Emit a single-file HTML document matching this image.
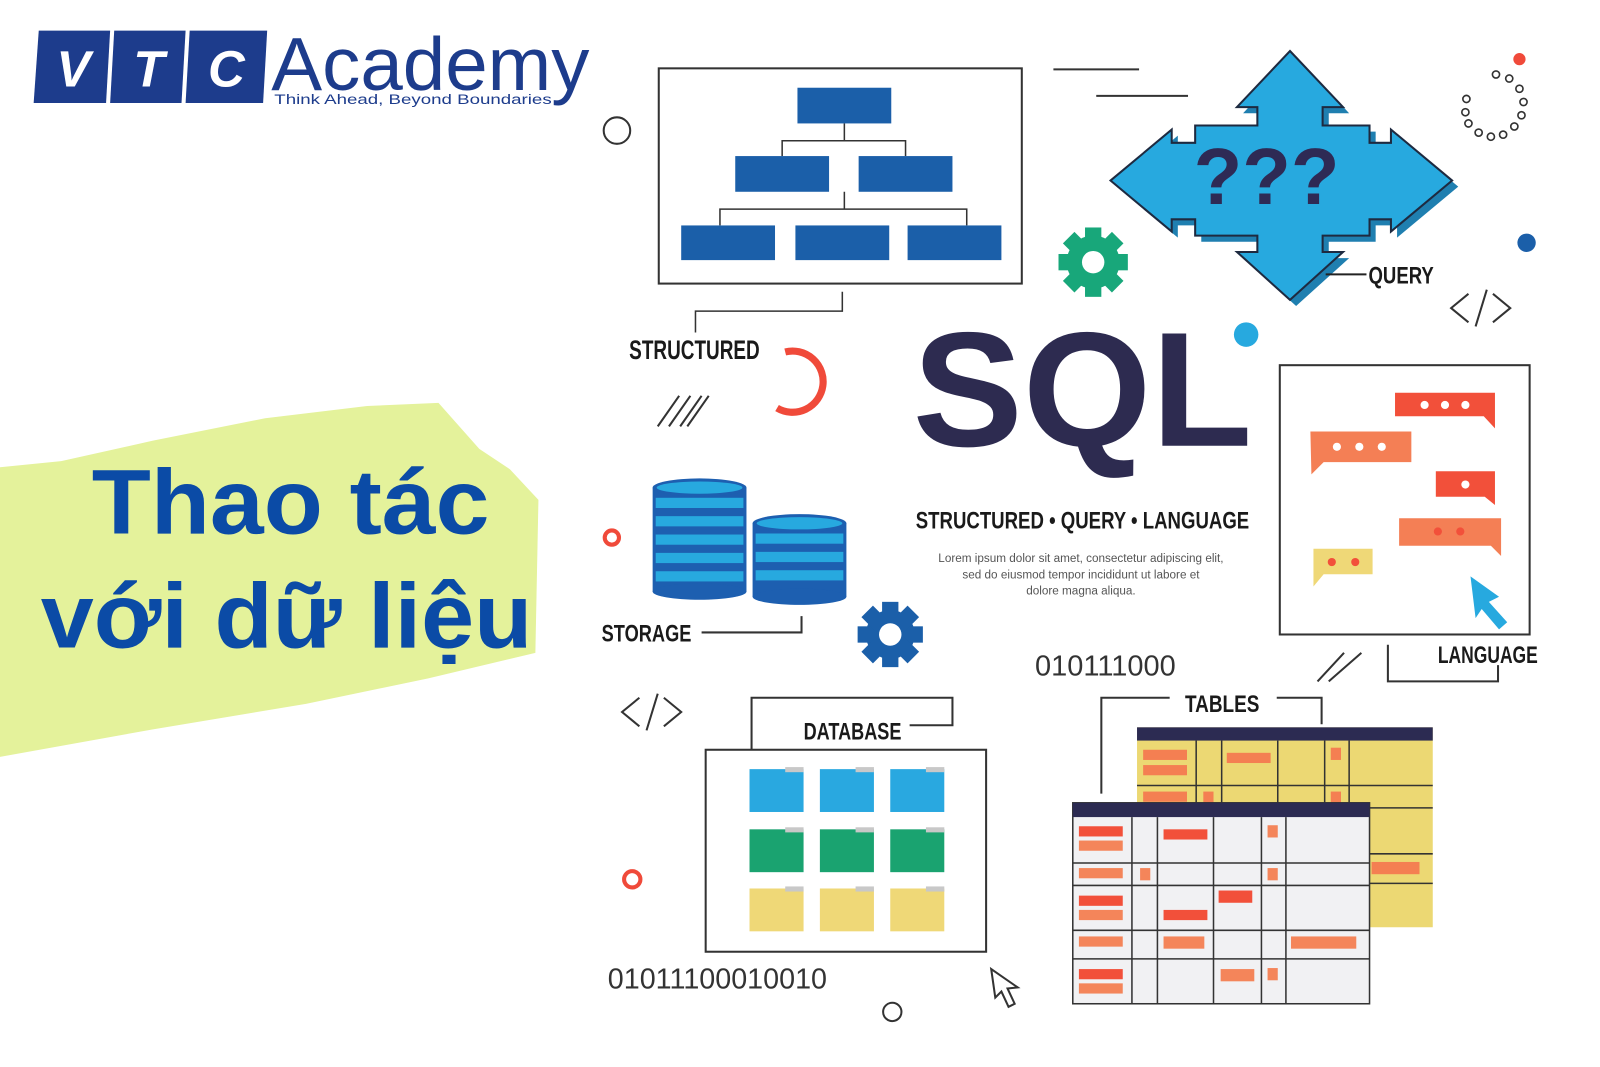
<!DOCTYPE html>
<html><head><meta charset="utf-8"><style>
html,body{margin:0;padding:0;background:#fff;width:1600px;height:1067px;overflow:hidden}
svg{display:block}
.cond{font-family:"Liberation Sans Narrow","Liberation Sans",sans-serif;font-weight:bold;fill:#1a1a1a}
</style></head><body>
<svg width="1600" height="1067" viewBox="0 0 1569 1046" preserveAspectRatio="none" xmlns="http://www.w3.org/2000/svg">
<!-- green brush -->
<polygon points="0,458 60,452 150,432 260,410 360,398 430,395 470,440 500,460 528,490 525,640 420,665 300,690 150,715 0,742" fill="#e4f29b"/>
<!-- logo -->
<g fill="#1d3c8c">
<polygon points="38,30 108,30 104,101 33,101"/>
<polygon points="112,30 182,30 178,101 108,101"/>
<polygon points="186,30 262,30 258,101 182,101"/>
</g>
<g font-family="Liberation Sans,sans-serif" font-weight="bold" font-style="italic" font-size="50" fill="#fff" text-anchor="middle">
<text x="72" y="85">V</text><text x="146" y="85">T</text><text x="222" y="85">C</text>
</g>
<text x="266" y="88" font-family="Liberation Sans,sans-serif" font-size="74" fill="#1d3c8c" textLength="312" lengthAdjust="spacingAndGlyphs">Academy</text>
<text x="269" y="102" font-family="Liberation Sans,sans-serif" font-size="14" fill="#1d3c8c" textLength="272" lengthAdjust="spacingAndGlyphs">Think Ahead, Beyond Boundaries</text>
<!-- title -->
<g font-family="Liberation Sans,sans-serif" font-weight="bold" fill="#0b4ba6">
<text x="90" y="523" font-size="90" textLength="390" lengthAdjust="spacingAndGlyphs">Thao tác</text>
<text x="40" y="635" font-size="90" textLength="482" lengthAdjust="spacingAndGlyphs">với dữ liệu</text>
</g>
<!-- org chart -->
<rect x="646" y="67" width="356" height="211" fill="#fff" stroke="#333" stroke-width="2"/>
<g stroke="#333" stroke-width="1.5" fill="none">
<path d="M828,121 V138 M767,153 V138 H888 V153 M828,188 V205 M706,221 V205 H948 V221"/>
<path d="M826,286 V305 H682 V326"/>
</g>
<g fill="#1b5fa9">
<rect x="782" y="86" width="92" height="35"/>
<rect x="721" y="153" width="92" height="35"/><rect x="842" y="153" width="92" height="35"/>
<rect x="668" y="221" width="92" height="34"/><rect x="780" y="221" width="92" height="34"/><rect x="890" y="221" width="92" height="34"/>
</g>
<text x="617" y="352" class="cond" font-size="26" textLength="128" lengthAdjust="spacingAndGlyphs">STRUCTURED</text>
<circle cx="605" cy="128" r="13" fill="none" stroke="#333" stroke-width="2"/>
<g stroke="#333" stroke-width="2"><line x1="1033" y1="68" x2="1117" y2="68"/><line x1="1075" y1="94" x2="1165" y2="94"/></g>
<!-- arrows -->
<polygon points="1268,52 1320,108 1300,108 1300,126 1346,126 1346,143 1367,143 1367,130 1427,180 1367,230 1367,218 1346,218 1346,234 1300,234 1300,250 1320,250 1268,297 1216,250 1236,250 1236,234 1175,234 1175,218 1152,218 1152,230 1092,180 1152,130 1152,143 1175,143 1175,126 1236,126 1236,108 1216,108" fill="#1f7fb0" transform="translate(3,3)"/>
<polygon points="1265,50 1317,105 1297,105 1297,123 1343,123 1343,140 1364,140 1364,127 1424,177 1364,227 1364,215 1343,215 1343,231 1297,231 1297,247 1317,247 1265,294 1213,247 1233,247 1233,231 1172,231 1172,215 1149,215 1149,227 1089,177 1149,127 1149,140 1172,140 1172,123 1233,123 1233,105 1213,105" fill="#27a9df" stroke="#1e2a40" stroke-width="2"/>
<text x="1242" y="200" font-family="Liberation Sans,sans-serif" font-weight="bold" font-size="78" fill="#2e2a55" text-anchor="middle">???</text>
<line x1="1300" y1="269" x2="1340" y2="269" stroke="#222" stroke-width="2"/>
<text x="1342" y="278" class="cond" font-size="24" textLength="64" lengthAdjust="spacingAndGlyphs">QUERY</text>
<!-- dots -->
<circle cx="1490" cy="58" r="6" fill="#f04a3a"/>
<g fill="none" stroke="#333" stroke-width="1.6">
<circle cx="1467" cy="73" r="3.5"/><circle cx="1480" cy="77" r="3.5"/><circle cx="1490" cy="87" r="3.5"/><circle cx="1494" cy="100" r="3.5"/><circle cx="1492" cy="113" r="3.5"/><circle cx="1485" cy="124" r="3.5"/><circle cx="1474" cy="132" r="3.5"/><circle cx="1462" cy="134" r="3.5"/><circle cx="1450" cy="130" r="3.5"/><circle cx="1440" cy="121" r="3.5"/><circle cx="1437" cy="110" r="3.5"/><circle cx="1438" cy="97" r="3.5"/>
</g>
<circle cx="1497" cy="238" r="9" fill="#1b5fa9"/>
<circle cx="1222" cy="328" r="12" fill="#27a9df"/>
<!-- code tags -->
<g fill="none" stroke="#333" stroke-width="2">
<path d="M1440,288 L1423,302 L1440,316 M1464,288 L1481,302 L1464,316 M1458,284 L1447,320"/>
<path d="M627,684 L610,698 L627,712 M651,684 L668,698 L651,712 M645,680 L634,716"/>
<path d="M645,418 L666,388 M656,418 L677,388 M667,418 L688,388 M674,418 L695,388"/>
<path d="M1292,668 L1318,640 M1303,668 L1335,640"/>
</g>
<!-- gears -->
<g transform="translate(1072,257)" fill="#18a77a">
<circle r="26"/>
<g><rect x="-8" y="-34" width="16" height="68"/><rect x="-34" y="-8" width="68" height="16"/><rect x="-8" y="-34" width="16" height="68" transform="rotate(45)"/><rect x="-8" y="-34" width="16" height="68" transform="rotate(-45)"/></g>
<circle r="11" fill="#fff"/>
</g>
<g transform="translate(873,622)" fill="#1b5fa9">
<circle r="24"/>
<g><rect x="-8" y="-32" width="16" height="64"/><rect x="-32" y="-8" width="64" height="16"/><rect x="-8" y="-32" width="16" height="64" transform="rotate(45)"/><rect x="-8" y="-32" width="16" height="64" transform="rotate(-45)"/></g>
<circle r="11" fill="#fff"/>
</g>
<!-- red arc -->
<path d="M770,345 A30,30 0 1 1 762,400" fill="none" stroke="#f04a3a" stroke-width="7"/>
<circle cx="600" cy="527" r="7" fill="none" stroke="#f04a3a" stroke-width="4"/>
<circle cx="620" cy="862" r="8" fill="none" stroke="#f04a3a" stroke-width="4"/>
<circle cx="875" cy="992" r="9" fill="none" stroke="#333" stroke-width="2"/>
<!-- SQL -->
<text x="895" y="437" font-family="Liberation Sans,sans-serif" font-weight="bold" font-size="160" fill="#2d2b50" textLength="333" lengthAdjust="spacingAndGlyphs">SQL</text>
<text x="898" y="518" class="cond" font-size="24" textLength="327" lengthAdjust="spacingAndGlyphs">STRUCTURED • QUERY • LANGUAGE</text>
<g font-family="Liberation Sans,sans-serif" font-size="11.5" fill="#555" text-anchor="middle">
<text x="1060" y="551">Lorem ipsum dolor sit amet, consectetur adipiscing elit,</text>
<text x="1060" y="567">sed do eiusmod tempor incididunt ut labore et</text>
<text x="1060" y="583">dolore magna aliqua.</text>
</g>
<!-- language box -->
<rect x="1255" y="358" width="245" height="264" fill="#fff" stroke="#333" stroke-width="2"/>
<g>
<path d="M1368,385 H1466 V420 L1455,408 H1368 Z" fill="#f2503a"/>
<path d="M1285,423 H1384 V453 H1298 L1286,465 Z" fill="#f47f55"/>
<path d="M1408,462 H1466 V495 L1456,487 H1408 Z" fill="#f2503a"/>
<path d="M1372,508 H1472 V545 L1462,535 H1372 Z" fill="#f47f55"/>
<path d="M1288,538 H1346 V563 H1298 L1288,575 Z" fill="#efd877"/>
</g>
<g fill="#fff"><circle cx="1397" cy="397" r="4"/><circle cx="1417" cy="397" r="4"/><circle cx="1437" cy="397" r="4"/>
<circle cx="1311" cy="438" r="4"/><circle cx="1333" cy="438" r="4"/><circle cx="1355" cy="438" r="4"/>
<circle cx="1437" cy="475" r="4"/></g>
<g fill="#f2503a"><circle cx="1410" cy="521" r="4"/><circle cx="1432" cy="521" r="4"/><circle cx="1306" cy="551" r="4"/><circle cx="1329" cy="551" r="4"/></g>
<path d="M1442,565 L1470,585 L1460,590 L1478,610 L1470,617 L1453,597 L1447,606 Z" fill="#27a9df"/>
<path d="M1361,632 V668 H1469 V652" fill="none" stroke="#333" stroke-width="2"/>
<text x="1410" y="650" class="cond" font-size="24" textLength="98" lengthAdjust="spacingAndGlyphs">LANGUAGE</text>
<!-- storage -->
<g>
<rect x="640" y="478" width="92" height="102" fill="#1d5fb0"/>
<g fill="#27a9df">
<rect x="643" y="488" width="86" height="10"/><rect x="643" y="506" width="86" height="10"/><rect x="643" y="524" width="86" height="10"/><rect x="643" y="542" width="86" height="10"/><rect x="643" y="560" width="86" height="10"/>
</g>
<ellipse cx="686" cy="580" rx="46" ry="8" fill="#1d5fb0"/>
<ellipse cx="686" cy="478" rx="46" ry="9" fill="#1d5fb0"/>
<ellipse cx="686" cy="478" rx="42" ry="6" fill="#27a9df"/>
<rect x="738" y="513" width="92" height="72" fill="#1d5fb0"/>
<g fill="#27a9df">
<rect x="741" y="523" width="86" height="10"/><rect x="741" y="541" width="86" height="10"/><rect x="741" y="559" width="86" height="10"/>
</g>
<ellipse cx="784" cy="585" rx="46" ry="8" fill="#1d5fb0"/>
<ellipse cx="784" cy="513" rx="46" ry="9" fill="#1d5fb0"/>
<ellipse cx="784" cy="513" rx="42" ry="6" fill="#27a9df"/>
</g>
<text x="590" y="629" class="cond" font-size="24" textLength="88" lengthAdjust="spacingAndGlyphs">STORAGE</text>
<path d="M688,620 H786 V604" fill="none" stroke="#333" stroke-width="2"/>
<!-- binary -->
<g font-family="Liberation Sans,sans-serif" font-size="28" fill="#333">
<text x="1015" y="662" textLength="138" lengthAdjust="spacingAndGlyphs">010111000</text>
<text x="596" y="969" textLength="215" lengthAdjust="spacingAndGlyphs">01011100010010</text>
</g>
<!-- database -->
<path d="M737,735 V684 H934 V711 H892" fill="none" stroke="#333" stroke-width="2"/>
<text x="788" y="725" class="cond" font-size="24" textLength="96" lengthAdjust="spacingAndGlyphs">DATABASE</text>
<rect x="692" y="735" width="275" height="198" fill="#fff" stroke="#333" stroke-width="2"/>
<g>
<g fill="#29a8e0"><rect x="735" y="754" width="53" height="42"/><rect x="804" y="754" width="53" height="42"/><rect x="873" y="754" width="53" height="42"/></g>
<g fill="#1aa370"><rect x="735" y="813" width="53" height="42"/><rect x="804" y="813" width="53" height="42"/><rect x="873" y="813" width="53" height="42"/></g>
<g fill="#efd877"><rect x="735" y="871" width="53" height="42"/><rect x="804" y="871" width="53" height="42"/><rect x="873" y="871" width="53" height="42"/></g>
<g fill="#c8c8c8"><rect x="770" y="752" width="18" height="5"/><rect x="839" y="752" width="18" height="5"/><rect x="908" y="752" width="18" height="5"/>
<rect x="770" y="811" width="18" height="5"/><rect x="839" y="811" width="18" height="5"/><rect x="908" y="811" width="18" height="5"/>
<rect x="770" y="869" width="18" height="5"/><rect x="839" y="869" width="18" height="5"/><rect x="908" y="869" width="18" height="5"/></g>
</g>
<path d="M972,950 L976,978 L982,972 L989,987 L995,984 L988,969 L998,968 Z" fill="#fff" stroke="#333" stroke-width="2"/>
<!-- tables -->
<path d="M1080,778 V684 H1147 M1252,684 H1296 V710" fill="none" stroke="#333" stroke-width="2"/>
<text x="1162" y="698" class="cond" font-size="24" textLength="73" lengthAdjust="spacingAndGlyphs">TABLES</text>
<rect x="1115" y="713" width="290" height="196" fill="#ecd873"/>
<rect x="1115" y="713" width="290" height="13" fill="#2c2b52"/>
<g stroke="#333" stroke-width="1.5">
<line x1="1173" y1="726" x2="1173" y2="790"/><line x1="1198" y1="726" x2="1198" y2="790"/><line x1="1253" y1="726" x2="1253" y2="790"/><line x1="1299" y1="726" x2="1299" y2="790"/><line x1="1323" y1="726" x2="1323" y2="790"/>
<line x1="1115" y1="770" x2="1405" y2="770"/><line x1="1343" y1="792" x2="1405" y2="792"/><line x1="1343" y1="837" x2="1405" y2="837"/><line x1="1343" y1="866" x2="1405" y2="866"/>
</g>
<g fill="#f47f52"><rect x="1121" y="735" width="43" height="10"/><rect x="1121" y="750" width="43" height="10"/><rect x="1203" y="738" width="43" height="10"/><rect x="1305" y="733" width="10" height="12"/><rect x="1121" y="776" width="43" height="10"/><rect x="1180" y="776" width="10" height="12"/><rect x="1305" y="776" width="10" height="12"/><rect x="1345" y="845" width="47" height="12"/></g>
<rect x="1052" y="787" width="291" height="197" fill="#f1f1f3" stroke="#333" stroke-width="1.5"/>
<rect x="1052" y="787" width="291" height="14" fill="#2c2b52"/>
<g stroke="#333" stroke-width="1.5">
<line x1="1110" y1="801" x2="1110" y2="984"/><line x1="1135" y1="801" x2="1135" y2="984"/><line x1="1190" y1="801" x2="1190" y2="984"/><line x1="1237" y1="801" x2="1237" y2="984"/><line x1="1261" y1="801" x2="1261" y2="984"/>
<line x1="1052" y1="846" x2="1343" y2="846"/><line x1="1052" y1="868" x2="1343" y2="868"/><line x1="1052" y1="912" x2="1343" y2="912"/><line x1="1052" y1="940" x2="1343" y2="940"/>
</g>
<g fill="#f2503a"><rect x="1058" y="810" width="43" height="10"/><rect x="1141" y="813" width="43" height="10"/><rect x="1058" y="878" width="43" height="10"/><rect x="1195" y="873" width="33" height="12"/><rect x="1141" y="892" width="43" height="10"/><rect x="1058" y="950" width="43" height="10"/></g>
<g fill="#f4855a"><rect x="1058" y="824" width="43" height="10"/><rect x="1243" y="809" width="10" height="12"/><rect x="1058" y="851" width="43" height="10"/><rect x="1118" y="851" width="10" height="12"/><rect x="1243" y="851" width="10" height="12"/><rect x="1058" y="892" width="43" height="10"/><rect x="1058" y="918" width="43" height="10"/><rect x="1141" y="918" width="40" height="12"/><rect x="1266" y="918" width="64" height="12"/><rect x="1058" y="964" width="43" height="10"/><rect x="1197" y="950" width="33" height="12"/><rect x="1243" y="949" width="10" height="12"/></g>
</svg>
</body></html>
